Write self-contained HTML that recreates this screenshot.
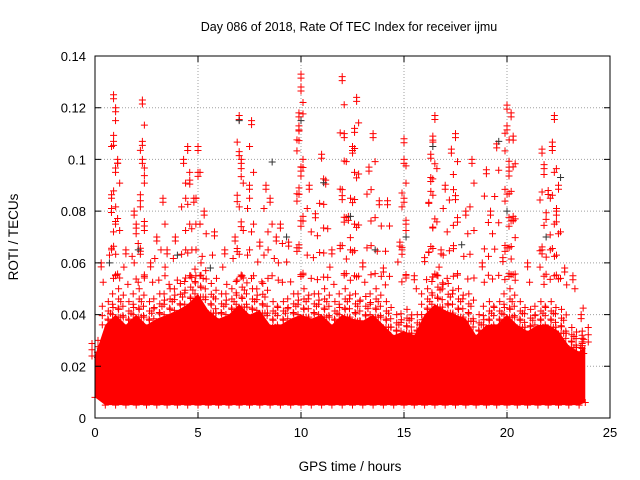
<!DOCTYPE html>
<html><head><meta charset="utf-8">
<style>
html,body{margin:0;padding:0;background:#fff;}
svg{display:block;font-family:"Liberation Sans",Arial,sans-serif;}
</style></head>
<body>
<svg id="chart" width="640" height="480" viewBox="0 0 640 480">
<rect x="0" y="0" width="640" height="480" fill="#fff"/>
<text x="349" y="31" font-size="12.5" text-anchor="middle">Day 086 of 2018, Rate Of TEC Index for receiver ijmu</text>
<text x="350" y="471" font-size="13.5" text-anchor="middle">GPS time / hours</text>
<text x="18" y="237" font-size="13.5" text-anchor="middle" transform="rotate(-90 18 237)">ROTI / TECUs</text>
<g id="grid"></g>
<g id="band"></g>
<g id="pts"></g>
<g id="axes"></g>
</svg>
<script>
const xTicks=[0,5,10,15,20,25];
const yTicks=[0,0.02,0.04,0.06,0.08,0.1,0.12,0.14];
const yTickLabels=["0","0.02","0.04","0.06","0.08","0.1","0.12","0.14"];
const bandTimes=[0,0.5,1,1.5,2,2.5,3,3.5,4,4.5,5,5.5,6,6.5,7,7.5,8,8.5,9,9.5,10,10.5,11,11.5,12,12.5,13,13.5,14,14.5,15,15.5,16,16.5,17,17.5,18,18.5,19,19.5,20,20.5,21,21.5,22,22.5,23,23.5,23.8];
const bandHigh=[0.03,0.045,0.05,0.045,0.05,0.045,0.048,0.05,0.052,0.055,0.06,0.052,0.048,0.05,0.055,0.05,0.052,0.045,0.045,0.048,0.05,0.048,0.05,0.045,0.05,0.048,0.047,0.05,0.045,0.04,0.042,0.04,0.05,0.055,0.052,0.05,0.048,0.04,0.045,0.045,0.05,0.045,0.042,0.045,0.045,0.042,0.035,0.032,0.035];
const bandLow=[0.008,0.005,0.005,0.005,0.005,0.005,0.005,0.005,0.005,0.005,0.005,0.005,0.005,0.005,0.005,0.005,0.005,0.005,0.005,0.005,0.005,0.005,0.005,0.005,0.005,0.005,0.005,0.005,0.005,0.005,0.005,0.005,0.005,0.005,0.005,0.005,0.005,0.005,0.005,0.005,0.005,0.005,0.005,0.005,0.005,0.005,0.005,0.005,0.006];
const spikeTimes=[0.9,1.0,0.9,0.8,1.1,2.3,2.3,2.3,1.9,2.0,3.3,3.5,3.0,4.3,4.5,4.6,5.0,5.0,4.8,5.3,7.0,7.0,7.1,7.6,7.5,8.3,8.5,9.0,10.0,10.0,9.9,9.9,10.0,10.4,10.7,11.0,11.2,12.0,12.1,12.0,12.5,12.7,12.6,12.3,13.5,13.3,13.8,14.2,15.0,15.0,15.0,14.8,16.5,16.4,16.3,16.3,17.3,17.0,17.5,17.5,18.3,18.0,19.0,19.5,19.2,20.0,20.0,20.2,20.3,20.1,20.3,21.7,21.8,22.3,22.2,22.5,22.4,22.0,21.7,23.6,0.3,1.5,2.7,3.9,5.8,6.3,6.8,8.0,8.8,9.4,11.5,13.0,14.0,15.5,16.0,16.8,18.8,19.8,21.0,22.8,23.2];
const spikeValues=[0.125,0.12,0.107,0.081,0.1,0.123,0.107,0.1,0.08,0.075,0.085,0.065,0.07,0.1,0.105,0.092,0.105,0.095,0.085,0.08,0.117,0.103,0.1,0.115,0.09,0.09,0.085,0.075,0.133,0.128,0.118,0.113,0.097,0.09,0.079,0.102,0.092,0.132,0.11,0.086,0.105,0.124,0.112,0.078,0.11,0.097,0.084,0.084,0.108,0.1,0.085,0.068,0.117,0.109,0.102,0.093,0.104,0.09,0.11,0.086,0.1,0.08,0.096,0.106,0.08,0.121,0.113,0.118,0.109,0.097,0.078,0.104,0.098,0.117,0.105,0.09,0.08,0.088,0.065,0.04,0.06,0.065,0.06,0.07,0.072,0.065,0.07,0.068,0.07,0.068,0.065,0.06,0.058,0.055,0.062,0.065,0.06,0.062,0.06,0.058,0.055];
const blackTimes=[0.7,2.1,4.0,5.6,7.0,8.6,9.3,10.0,11.1,12.4,13.6,15.1,16.4,17.8,19.6,20.0,21.9,22.6];
const blackValues=[0.06,0.065,0.063,0.058,0.115,0.099,0.07,0.115,0.091,0.078,0.065,0.07,0.105,0.067,0.107,0.08,0.07,0.093];

const X0=95,X1=610,Y0=418,Y1=56;
const xs=t=>X0+(t-0)/(25-0)*(X1-X0);
const ys=v=>Y0-(v-0)/(0.14-0)*(Y0-Y1);
const NS="http://www.w3.org/2000/svg";
function mk(tag,attrs,parent){const e=document.createElementNS(NS,tag);for(const k in attrs)e.setAttribute(k,attrs[k]);parent.appendChild(e);return e;}
const grid=document.getElementById('grid'),axes=document.getElementById('axes'),band=document.getElementById('band'),pts=document.getElementById('pts');

xTicks.forEach((t,i)=>{
  const x=xs(t);
  if(i>0&&i<xTicks.length-1){const g=mk('line',{x1:x,y1:Y1,x2:x,y2:Y0,stroke:'#a0a0a0','stroke-dasharray':'1,2','stroke-width':1},grid);
  
  }
  const tk=mk('path',{d:`M${x},${Y0}v-6M${x},${Y1}v6`,stroke:'#000','stroke-width':1},axes);
  
  
  const l=mk('text',{x:x,y:Y0+19,'font-size':13,'text-anchor':'middle'},axes);l.textContent=String(t);
  
  
});
yTicks.forEach((v,i)=>{
  const y=ys(v);
  if(i>0&&i<yTicks.length-1){const g=mk('line',{x1:X0,y1:y,x2:X1,y2:y,stroke:'#a0a0a0','stroke-dasharray':'1,2','stroke-width':1},grid);
  
  }
  const tk=mk('path',{d:`M${X0},${y}h6M${X1},${y}h-6`,stroke:'#000','stroke-width':1},axes);
  
  
  const l=mk('text',{x:X0-9,y:y+5,'font-size':13,'text-anchor':'end'},axes);l.textContent=yTickLabels[i];
  
  
});
const frame=mk('rect',{x:X0,y:Y1,width:X1-X0,height:Y0-Y1,fill:'none',stroke:'#000','stroke-width':1},axes);



// dense band
let d='';
bandTimes.forEach((t,i)=>{d+=(i?'L':'M')+xs(t)+','+ys(bandHigh[i]*0.8);});
for(let i=bandTimes.length-1;i>=0;i--)d+='L'+xs(bandTimes[i])+','+ys(bandLow[i]);
const poly=mk('path',{d:d+'Z',fill:'#ff0000'},band);



function plus(x,y,color,name){
  const p=mk('path',{d:`M${x-3.5},${y}h7M${x},${y-3.5}v7`,stroke:color,'stroke-width':1},pts);
  
  
}
// band top crosses (ragged edge)
bandTimes.forEach((t,i)=>{
  const x=xs(t),top=bandHigh[i],base=bandHigh[i]*0.8;
  for(let k=0;k<=5;k++){plus(x+(k%2?3:-3),ys(base+(top-base)*k/5),'#ff0000','band-point');}
  if(i<bandTimes.length-1){
    const xn=xs(bandTimes[i+1]);
    for(let k=1;k<4;k++){const xm=x+(xn-x)*k/4;plus(xm,ys(top*(0.8+0.05*k)),'#ff0000','band-point');plus(xm,ys(top*0.78),'#ff0000','band-point');}
  }
  plus(x,ys(bandLow[i]),'#ff0000','band-point');
});
// spikes: clustered crosses from band up to value
spikeTimes.forEach((t,i)=>{
  const x=xs(t),v=spikeValues[i];
  plus(x,ys(v),'#ff0000','spike-point');
  plus(x,ys(v)+4,'#ff0000','spike-point');
  const n=Math.max(1,Math.round((v-0.045)/0.012));
  for(let k=1;k<=n;k++){plus(x+(k%2?2:-2),ys(0.045+(v-0.045)*k/(n+1)),'#ff0000','spike-point');}
});
blackTimes.forEach((t,i)=>{plus(xs(t),ys(blackValues[i]),'#333','black-point');});
</script>
</body></html>
